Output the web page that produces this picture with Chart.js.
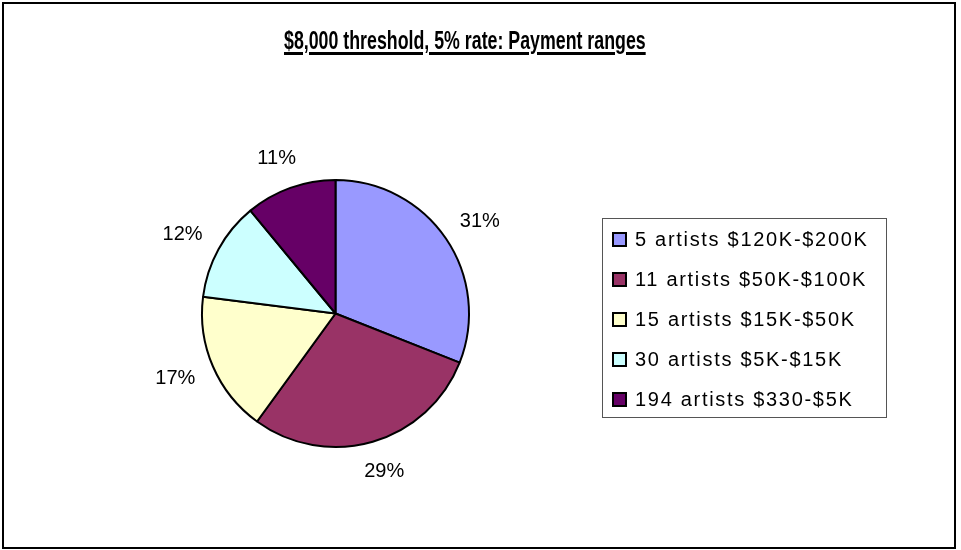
<!DOCTYPE html>
<html>
<head>
<meta charset="utf-8">
<title>Payment ranges</title>
<script src="https://cdn.jsdelivr.net/npm/chart.js@4.4.1/dist/chart.umd.min.js"></script>
<style>
    body { margin: 0; background: #fff; }
    #wrap { position: relative; width: 961px; height: 550px; overflow: hidden; }
    #frame {
        position: absolute; left: 2px; top: 2px; width: 950px; height: 543px;
        border: 2px solid #000;
    }
    #pieChart { position: absolute; left: 0; top: 0; }
    #title {
        position: absolute; left: 284px; top: 26px;
        font-family: "Liberation Sans", Arial, sans-serif;
        font-weight: bold; font-size: 25px; color: #000;
        text-decoration: underline; text-decoration-thickness: 3px; text-underline-offset: 3px;
        white-space: nowrap;
        transform-origin: 0 0;
    }
    #legend {
        position: absolute; left: 602px; top: 218px; width: 283px; height: 198px;
        border: 1px solid #555;
        font-family: "Liberation Sans", Arial, sans-serif; font-size: 20px; color: #000;
    }
    #legend .item { position: absolute; left: 9px; height: 40px; display: flex; align-items: center; white-space: nowrap; letter-spacing: 1.7px; }
    #legend .box { width: 11px; height: 11px; border: 2px solid #000; margin-right: 8px; }
</style>
</head>
<body>
<div id="wrap">
    <div id="frame"></div>
    <canvas id="pieChart" width="961" height="550"></canvas>
    <div id="title">$8,000 threshold, 5% rate: Payment ranges</div>
    <div id="legend"></div>
</div>
<script>
// Payment range groups and their share of total payments (%)
const categories = ['5 artists $120K-$200K', '11 artists $50K-$100K', '15 artists $15K-$50K', '30 artists $5K-$15K', '194 artists $330-$5K'];
const shares = [31, 29, 17, 12, 11];
const sliceColors = ['#9999FF', '#993366', '#FFFFCC', '#CCFFFF', '#660066'];

// squeeze the bold title into a narrow look
const titleEl = document.getElementById('title');
titleEl.style.transform = 'scaleX(' + (362 / titleEl.offsetWidth) + ')';

// Percent labels just outside each slice
const outsideLabels = {
    id: 'outsideLabels',
    afterDatasetsDraw(chart) {
        const ctx = chart.ctx;
        const meta = chart.getDatasetMeta(0);
        const data = chart.data.datasets[0].data;
        const total = data.reduce((a, b) => a + b, 0);
        ctx.save();
        ctx.font = '20px "Liberation Sans", Arial, sans-serif';
        ctx.fillStyle = '#000';
        ctx.textAlign = 'center';
        ctx.textBaseline = 'middle';
        meta.data.forEach((arc, i) => {
            const p = arc.getProps(['x', 'y', 'startAngle', 'endAngle', 'outerRadius'], true);
            const mid = (p.startAngle + p.endAngle) / 2;
            const text = Math.round(data[i] / total * 100) + '%';
            const w = ctx.measureText(text).width;
            const h = 20;
            const r = p.outerRadius + 21;
            const x = p.x + Math.cos(mid) * (r + w / 2);
            const y = p.y + Math.sin(mid) * (r + h / 2);
            ctx.fillText(text, x, y);
        });
        ctx.restore();
    }
};

const pieCtx = document.getElementById('pieChart').getContext('2d');
const pieChart = new Chart(pieCtx, {
    type: 'pie',
    data: {
        labels: categories,
        datasets: [{
            data: shares,
            backgroundColor: sliceColors,
            borderColor: '#000',
            borderWidth: 2,
        }]
    },
    options: {
        responsive: false,
        animation: false,
        devicePixelRatio: 1,
        layout: { padding: { left: 201, top: 179, right: 491, bottom: 102 } },
        plugins: {
            legend: { display: false },
            title: { display: false },
            tooltip: { enabled: false },
        }
    },
    plugins: [outsideLabels]
});

// Legend built from the chart data
const legendEl = document.getElementById('legend');
pieChart.data.labels.forEach((label, i) => {
    const item = document.createElement('div');
    item.className = 'item';
    item.style.top = (i * 40) + 'px';
    const box = document.createElement('span');
    box.className = 'box';
    box.style.background = sliceColors[i];
    const txt = document.createElement('span');
    txt.textContent = label;
    item.appendChild(box);
    item.appendChild(txt);
    legendEl.appendChild(item);
});
</script>
</body>
</html>
